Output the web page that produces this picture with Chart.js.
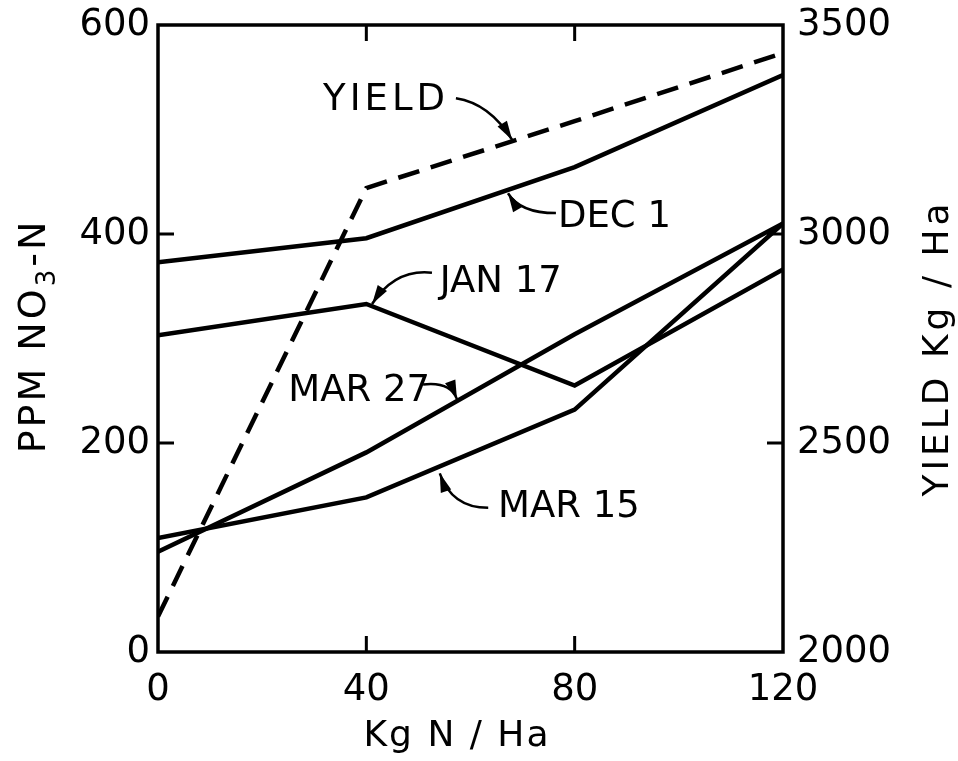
<!DOCTYPE html>
<html>
<head>
<meta charset="utf-8">
<script src="https://cdn.jsdelivr.net/npm/chart.js@4.4.0/dist/chart.umd.min.js"></script>
<style>
  html, body { margin: 0; padding: 0; background: #fff; }
  #wrap { width: 958px; height: 761px; }
</style>
</head>
<body>
<div id="wrap"><canvas id="nitrateChart" width="958" height="761"></canvas></div>
<script>
// N rate on the x axis, nitrate (ppm NO3-N) on the left axis, yield on the right
const nRates = [0, 40, 80, 120];
const dec1 = [373, 396, 464, 552];
const jan17 = [303, 333, 255, 366];
const mar27 = [96, 191, 304, 410];
const mar15 = [109, 148, 232, 410];
const yieldKg = [2085, 3110, 3270, 3433];

const xTicks = [0, 40, 80, 120];
const ppmTicks = [0, 200, 400, 600];
const yieldTicks = [2000, 2500, 3000, 3500];

// callout labels, placed in data units (x = kg N/ha, y = ppm)
const callouts = [
    { text: 'YIELD', at: [31.7, 532], arrow: [[57.2, 530], [63.7, 525], [68.0, 490]] },
    { text: 'DEC 1', at: [76.8, 420], arrow: [[76.4, 420], [69.5, 420], [67.2, 439]] },
    { text: 'JAN 17', at: [54.1, 357], arrow: [[52.6, 363], [45.5, 367], [41.1, 333]] },
    { text: 'MAR 27', at: [25.0, 253], arrow: [[50.9, 256], [56.1, 259], [57.4, 242]] },
    { text: 'MAR 15', at: [65.3, 142], arrow: [[63.4, 138], [56.4, 138], [54.1, 171]] }
];

const FONT = '"DejaVu Sans", sans-serif';

function pts(values) {
    return nRates.map((x, i) => ({ x: x, y: values[i] }));
}

function solid(label, values) {
    return {
        label: label,
        data: pts(values),
        borderColor: '#000',
        borderWidth: 4.5,
        pointRadius: 0,
        tension: 0,
        yAxisID: 'y'
    };
}

// fixed box sizes so the plot frame lands where the original has it
function fixBox(size) {
    return s => {
        if (s.isHorizontal()) s.height = size; else s.width = size;
        s.paddingTop = 0; s.paddingBottom = 0;
        s.paddingLeft = 0; s.paddingRight = 0;
    };
}

const plotExtras = {
    id: 'plotExtras',
    afterDatasetsDraw(chart) {
        const ctx = chart.ctx;
        const a = chart.chartArea;
        const sx = chart.scales.x, sy = chart.scales.y, sy2 = chart.scales.y2;
        ctx.save();
        ctx.strokeStyle = '#000';
        ctx.fillStyle = '#000';

        // frame
        ctx.lineWidth = 3.5;
        ctx.strokeRect(a.left, a.top, a.right - a.left, a.bottom - a.top);

        // inner tick marks
        const tl = 16;
        ctx.lineWidth = 3;
        ctx.beginPath();
        xTicks.slice(1, -1).forEach(v => {
            const px = sx.getPixelForValue(v);
            ctx.moveTo(px, a.bottom); ctx.lineTo(px, a.bottom - tl);
            ctx.moveTo(px, a.top); ctx.lineTo(px, a.top + tl);
        });
        ppmTicks.slice(1, -1).forEach(v => {
            const py = sy.getPixelForValue(v);
            ctx.moveTo(a.left, py); ctx.lineTo(a.left + tl, py);
        });
        yieldTicks.slice(1, -1).forEach(v => {
            const py = sy2.getPixelForValue(v);
            ctx.moveTo(a.right, py); ctx.lineTo(a.right - tl, py);
        });
        ctx.stroke();

        // callouts with curved arrows
        ctx.font = '37px ' + FONT;
        ctx.textAlign = 'left';
        ctx.textBaseline = 'alphabetic';
        callouts.forEach(c => {
            const tx = sx.getPixelForValue(c.at[0]);
            const ty = sy.getPixelForValue(c.at[1]);
            ctx.letterSpacing = c.text === 'YIELD' ? '4px' : '0px';
            ctx.fillText(c.text, tx, ty + 13.5);

            const p = c.arrow.map(q => [sx.getPixelForValue(q[0]), sy.getPixelForValue(q[1])]);
            ctx.lineWidth = 2.5;
            ctx.beginPath();
            ctx.moveTo(p[0][0], p[0][1]);
            ctx.quadraticCurveTo(p[1][0], p[1][1], p[2][0], p[2][1]);
            ctx.stroke();

            const ang = Math.atan2(p[2][1] - p[1][1], p[2][0] - p[1][0]);
            const len = 19, hw = 5.5;
            ctx.beginPath();
            ctx.moveTo(p[2][0], p[2][1]);
            ctx.lineTo(p[2][0] - len * Math.cos(ang) + hw * Math.sin(ang),
                       p[2][1] - len * Math.sin(ang) - hw * Math.cos(ang));
            ctx.lineTo(p[2][0] - len * Math.cos(ang) - hw * Math.sin(ang),
                       p[2][1] - len * Math.sin(ang) + hw * Math.cos(ang));
            ctx.closePath();
            ctx.fill();
        });

        // axis titles, both vertical ones read bottom to top
        ctx.textBaseline = 'alphabetic';
        ctx.font = '38px ' + FONT;
        ctx.letterSpacing = '3px';
        ctx.save();
        ctx.translate(31, 336);
        ctx.rotate(-Math.PI / 2);
        // NO3 with a real lowered subscript
        const partA = 'PPM NO', partB = '3', partC = '-N';
        ctx.font = '38px ' + FONT;
        const wA = ctx.measureText(partA).width;
        const wC = ctx.measureText(partC).width;
        ctx.font = '26px ' + FONT;
        const wB = ctx.measureText(partB).width;
        let cx = -(wA + wB + wC) / 2;
        ctx.textAlign = 'left';
        ctx.font = '38px ' + FONT;
        ctx.fillText(partA, cx, 14);
        cx += wA;
        ctx.font = '26px ' + FONT;
        ctx.fillText(partB, cx, 24);
        cx += wB;
        ctx.font = '38px ' + FONT;
        ctx.fillText(partC, cx, 14);
        ctx.restore();

        ctx.textAlign = 'center';
        ctx.font = '36px ' + FONT;
        ctx.letterSpacing = '4px';
        ctx.save();
        ctx.translate(935, 348);
        ctx.rotate(-Math.PI / 2);
        ctx.fillText('YIELD Kg / Ha', 0, 13);
        ctx.restore();

        ctx.letterSpacing = '2px';
        ctx.fillText('Kg N / Ha', 457, 746);
        ctx.restore();
    }
};

const tickFont = { family: FONT, size: 37 };

const ctx = document.getElementById('nitrateChart').getContext('2d');
new Chart(ctx, {
    type: 'line',
    data: {
        datasets: [
            solid('DEC 1', dec1),
            solid('JAN 17', jan17),
            solid('MAR 27', mar27),
            solid('MAR 15', mar15),
            {
                label: 'YIELD',
                data: pts(yieldKg),
                borderColor: '#000',
                borderWidth: 4.5,
                borderDash: [22, 12],
                pointRadius: 0,
                tension: 0,
                yAxisID: 'y2'
            }
        ]
    },
    options: {
        responsive: false,
        animation: false,
        layout: { padding: { top: 25, left: 0, right: 0, bottom: 0 } },
        plugins: {
            legend: { display: false },
            tooltip: { enabled: false }
        },
        scales: {
            x: {
                type: 'linear',
                min: 0,
                max: 120,
                afterFit: fixBox(109),
                afterBuildTicks: s => { s.ticks = xTicks.map(v => ({ value: v })); },
                ticks: { color: '#000', padding: 16, maxRotation: 0, font: tickFont, callback: v => String(v) },
                grid: { display: false, drawTicks: false },
                border: { display: false }
            },
            y: {
                position: 'left',
                min: 0,
                max: 600,
                afterFit: fixBox(158),
                afterBuildTicks: s => { s.ticks = ppmTicks.map(v => ({ value: v })); },
                ticks: { color: '#000', padding: 8, font: tickFont, callback: v => String(v) },
                grid: { display: false, drawTicks: false },
                border: { display: false }
            },
            y2: {
                position: 'right',
                min: 2000,
                max: 3500,
                afterFit: fixBox(175),
                afterBuildTicks: s => { s.ticks = yieldTicks.map(v => ({ value: v })); },
                ticks: { color: '#000', padding: 14, font: tickFont, callback: v => String(v) },
                grid: { display: false, drawTicks: false },
                border: { display: false }
            }
        }
    },
    plugins: [plotExtras]
});
</script>
</body>
</html>
